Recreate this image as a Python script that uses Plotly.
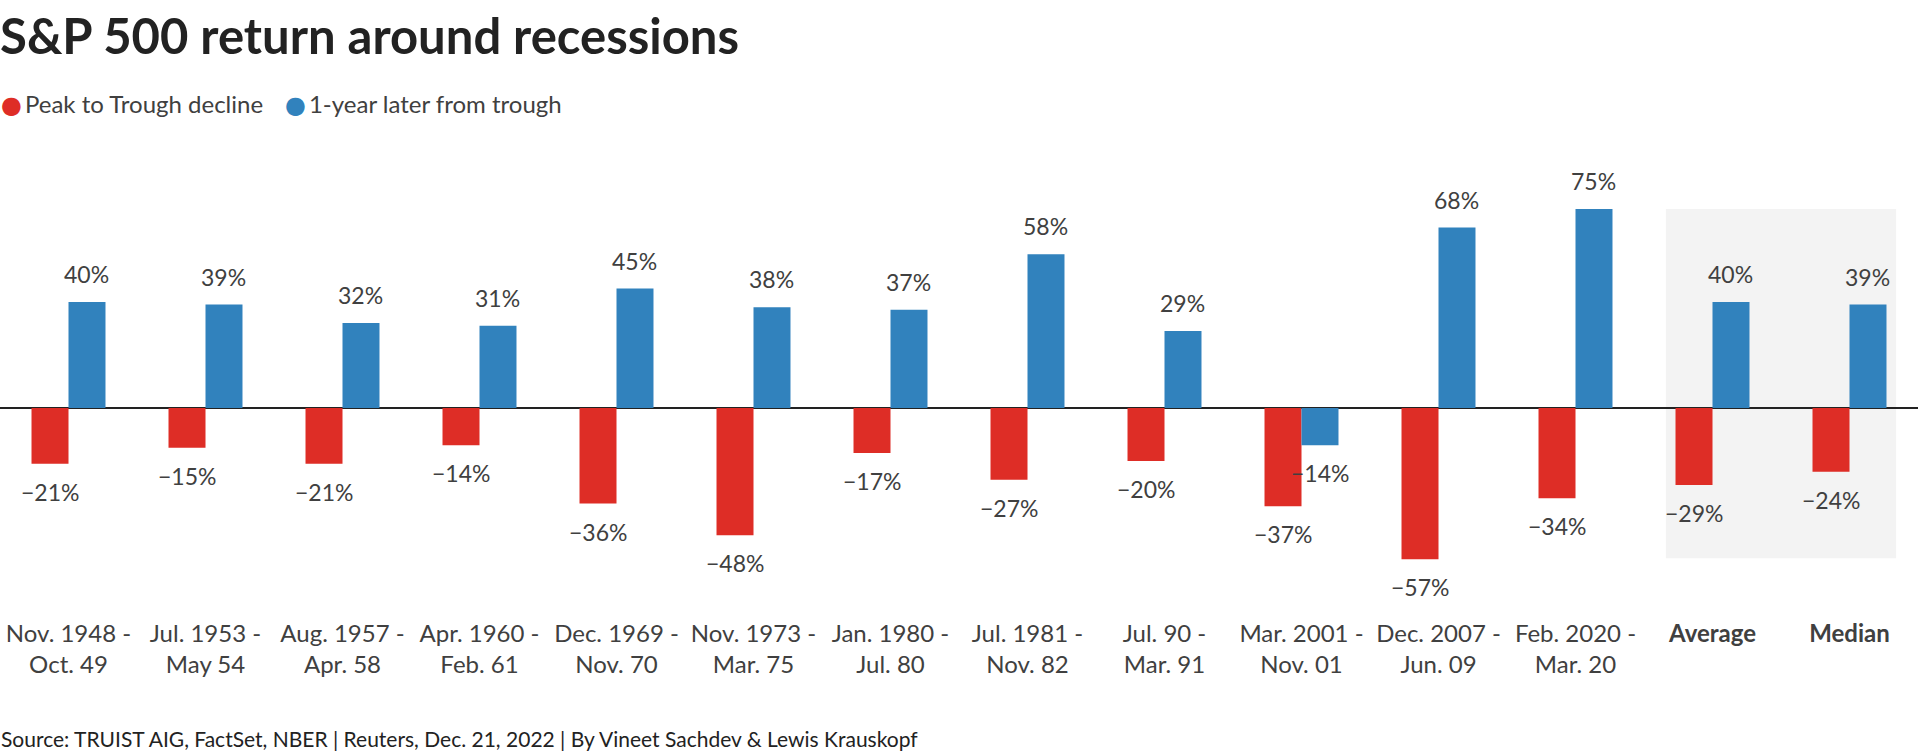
import plotly.graph_objects as go

categories = [
    "Nov. 1948 -<br>Oct. 49", "Jul. 1953 -<br>May 54", "Aug. 1957 -<br>Apr. 58",
    "Apr. 1960 -<br>Feb. 61", "Dec. 1969 -<br>Nov. 70", "Nov. 1973 -<br>Mar. 75",
    "Jan. 1980 -<br>Jul. 80", "Jul. 1981 -<br>Nov. 82", "Jul. 90 -<br>Mar. 91",
    "Mar. 2001 -<br>Nov. 01", "Dec. 2007 -<br>Jun. 09", "Feb. 2020 -<br>Mar. 20",
    "<b>Average</b>", "<b>Median</b>",
]
peak_to_trough = [-21, -15, -21, -14, -36, -48, -17, -27, -20, -37, -57, -34, -29, -24]
one_year_later = [40, 39, 32, 31, 45, 38, 37, 58, 29, -14, 68, 75, 40, 39]
series_names = ["Peak to Trough decline", "1-year later from trough"]

RED = "#de2d26"
BLUE = "#3182bd"
FONT = "Lato"
TXT = "#404040"

W, H = 1918, 752
top_px, bot_px = 150, 617
zero_px = 408
px_per_unit = 2.653
y_max = (zero_px - top_px) / px_per_unit
y_min = -(bot_px - zero_px) / px_per_unit
plot_h = bot_px - top_px

bargap = 0.46
cat_px = W / len(categories)
offset_px = cat_px * (1 - bargap) / 4


def fmt(v):
    return f"{v}%".replace("-", "\u2212")


fig = go.Figure()
for name, vals, col in [(series_names[0], peak_to_trough, RED),
                        (series_names[1], one_year_later, BLUE)]:
    fig.add_trace(go.Bar(x=categories, y=vals, name=name, marker_color=col,
                         marker_line_width=0, showlegend=False, hoverinfo="skip"))

annotations = []
for i, cat in enumerate(categories):
    for vals, sign in [(peak_to_trough, -1), (one_year_later, 1)]:
        v = vals[i]
        annotations.append(dict(
            x=cat, y=v, xref="x", yref="y", text=fmt(v), showarrow=False,
            xshift=sign * offset_px, yshift=(28 if v >= 0 else -28),
            yanchor="middle", font=dict(family=FONT, size=23, color=TXT)))

# legend (coloured dots + series names)
legend_x = [0, 284 / W]
for name, col, lx in zip(series_names, [RED, BLUE], legend_x):
    annotations.append(dict(
        x=lx, y=1 + (top_px - 104) / plot_h, xref="paper", yref="paper",
        xanchor="left", yanchor="middle", showarrow=False, borderpad=0,
        text=f"<span style='color:{col}; font-family:DejaVu Sans'>\u25cf</span>\u2009{name}",
        font=dict(family=FONT, size=24, color=TXT)))

annotations.append(dict(
    x=0, y=-(738 - bot_px) / plot_h, xref="paper", yref="paper",
    xanchor="left", yanchor="middle", showarrow=False, borderpad=0,
    text="Source: TRUIST AIG, FactSet, NBER | Reuters, Dec. 21, 2022 | By Vineet Sachdev &amp; Lewis Krauskopf",
    font=dict(family=FONT, size=21, color="#222222")))

fig.add_shape(type="rect", xref="x", yref="y", layer="below",
              x0=11.66, x1=13.34, y0=-56.6, y1=75,
              fillcolor="#f3f3f3", line_width=0)

fig.update_layout(
    width=W, height=H,
    margin=dict(l=0, r=0, t=top_px, b=H - bot_px, pad=0),
    paper_bgcolor="white", plot_bgcolor="white",
    barmode="group", bargap=bargap, bargroupgap=0,
    showlegend=False,
    title=dict(text="<b>S&amp;P 500 return around recessions</b>", x=0, xanchor="left",
               xref="paper", yref="container", y=1 - 37 / H, yanchor="middle",
               font=dict(family=FONT, size=49, color="#222222")),
    xaxis=dict(showgrid=False, showline=False, ticks="", zeroline=False,
               tickfont=dict(family=FONT, size=24, color=TXT),
               range=[-0.5, len(categories) - 0.5], fixedrange=True),
    yaxis=dict(range=[y_min, y_max], showgrid=False, showticklabels=False,
               zeroline=True, zerolinecolor="#222222", zerolinewidth=2,
               showline=False, ticks="", fixedrange=True),
    annotations=annotations,
    font=dict(family=FONT),
)

fig.write_html("out.html", config={"displayModeBar": False},
               post_script="document.body.style.margin='0px';")
